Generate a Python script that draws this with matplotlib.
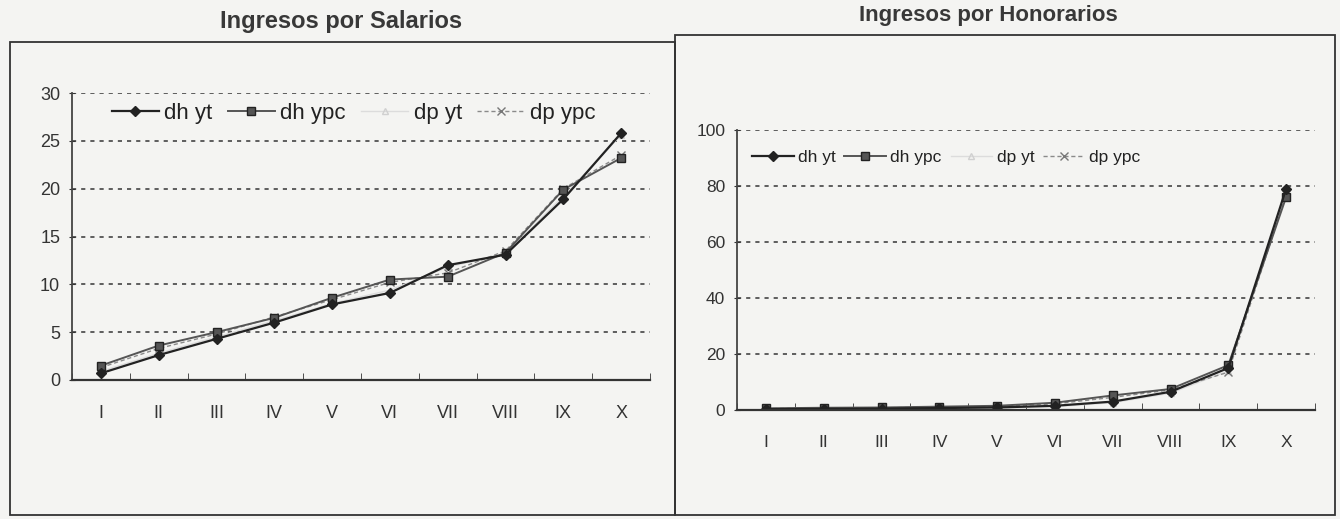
import matplotlib.pyplot as plt
from matplotlib.patches import Rectangle
import numpy as np

plt.rcParams['font.family'] = ['Liberation Sans', 'DejaVu Sans']

# categories (deciles)
deciles = ["I", "II", "III", "IV", "V", "VI", "VII", "VIII", "IX", "X"]

# Ingresos por Salarios
sal_dh_yt = [0.7, 2.6, 4.3, 6.0, 7.9, 9.1, 12.0, 13.1, 18.9, 25.8]
sal_dh_ypc = [1.5, 3.6, 5.0, 6.5, 8.6, 10.5, 10.8, 13.3, 19.9, 23.2]
sal_dp_yt = [0.9, 2.8, 4.5, 6.2, 8.0, 9.4, 11.8, 13.2, 19.2, 25.6]
sal_dp_ypc = [1.3, 3.3, 4.8, 6.6, 8.4, 10.2, 11.2, 13.5, 20.0, 23.5]

# Ingresos por Honorarios
hon_dh_yt = [0.3, 0.4, 0.5, 0.7, 0.9, 1.5, 3.0, 6.5, 15.0, 79.0]
hon_dh_ypc = [0.6, 0.8, 0.9, 1.2, 1.5, 2.6, 5.2, 7.5, 16.0, 76.0]
hon_dp_yt = [0.2, 0.3, 0.4, 0.6, 0.8, 1.2, 2.6, 6.0, 14.0, 78.0]
hon_dp_ypc = [0.5, 0.7, 0.8, 1.0, 1.3, 2.2, 4.5, 7.2, 13.5, 77.0]

bg = "#f4f4f2"
W, H = 1340, 519
fig = plt.figure(figsize=(W / 100, H / 100), dpi=100, facecolor=bg)

# scanned report boxes: left box, right box
fig.add_artist(Rectangle((10 / W, 4 / H), 665 / W, 473 / H, transform=fig.transFigure,
                         fill=False, ec="#333333", lw=1.3))
fig.add_artist(Rectangle((675 / W, 4 / H), 660 / W, 480 / H, transform=fig.transFigure,
                         fill=False, ec="#333333", lw=1.3))

fig.text(341 / W, 1 - 22 / H, "Ingresos por Salarios", ha="center", va="center",
         fontsize=17, fontweight="bold", color="#383838")
fig.text(988 / W, 1 - 15 / H, "Ingresos por Honorarios", ha="center", va="center",
         fontsize=16, fontweight="bold", color="#383838")


def draw_panel(ax, s1, s2, s3, s4, ymax, ystep, leg):
    x = np.arange(len(deciles))
    ax.set_facecolor(bg)
    ax.plot(x, s3, color="#dcdcdc", lw=1.0, marker="^", ms=5, mfc="none", mec="#d0d0d0", label="dp yt")
    ax.plot(x, s4, color="#8a8a8a", lw=1.0, ls=(0, (3, 2)), marker="x", ms=6, mec="#777777", label="dp ypc")
    ax.plot(x, s2, color="#555555", lw=1.4, marker="s", ms=6, mfc="#555555", mec="#222222", label="dh ypc")
    ax.plot(x, s1, color="#222222", lw=1.6, marker="D", ms=5, mfc="#222222", label="dh yt")

    ax.set_xlim(-0.5, len(deciles) - 0.5)
    ax.set_ylim(0, ymax)
    ax.set_yticks(np.arange(0, ymax + 1, ystep))
    ax.set_xticks(x)
    ax.set_xticklabels(deciles)
    ax.set_xticks(np.arange(-0.5, len(deciles), 1), minor=True)
    ax.tick_params(axis="x", which="major", length=0, pad=leg["xpad"], labelsize=leg["tick"], colors="#333333")
    ax.tick_params(axis="x", which="minor", length=5, direction="in", color="#333333")
    ax.tick_params(axis="y", length=5, direction="inout", labelsize=leg["tick"], colors="#333333", pad=6)
    for t in np.arange(ystep, ymax + 1, ystep):
        ax.axhline(t, color="#444444", lw=1.2, ls=(0, (2.5, 3)), zorder=0)
    for sp in ["top", "right"]:
        ax.spines[sp].set_visible(False)
    ax.spines["left"].set_color("#444444")
    ax.spines["bottom"].set_color("#333333")
    ax.spines["left"].set_linewidth(1.3)
    ax.spines["bottom"].set_linewidth(1.6)

    handles, labels = ax.get_legend_handles_labels()
    order = [3, 2, 0, 1]
    ax.legend([handles[i] for i in order], [labels[i] for i in order], ncol=4, frameon=False,
              loc="center left", bbox_to_anchor=leg["anchor"], fontsize=leg["size"],
              handlelength=leg["hl"], handletextpad=0.25, columnspacing=leg["cs"],
              borderpad=0, borderaxespad=0, labelcolor="#222222")


ax1 = fig.add_axes([72 / W, 1 - 380 / H, 578 / W, 287 / H])
draw_panel(ax1, sal_dh_yt, sal_dh_ypc, sal_dp_yt, sal_dp_ypc, 30, 5,
           {"anchor": (40 / 578, 1 - 20 / 287), "size": 16, "hl": 2.1, "cs": 0.7, "tick": 13, "xpad": 18})

ax2 = fig.add_axes([737 / W, 1 - 410 / H, 578 / W, 280 / H])
draw_panel(ax2, hon_dh_yt, hon_dh_ypc, hon_dp_yt, hon_dp_ypc, 100, 20,
           {"anchor": (15 / 578, 1 - 27 / 280), "size": 12.5, "hl": 2.4, "cs": 0.5, "tick": 12.5, "xpad": 18})

fig.savefig("out.png", dpi=100, facecolor=bg)
